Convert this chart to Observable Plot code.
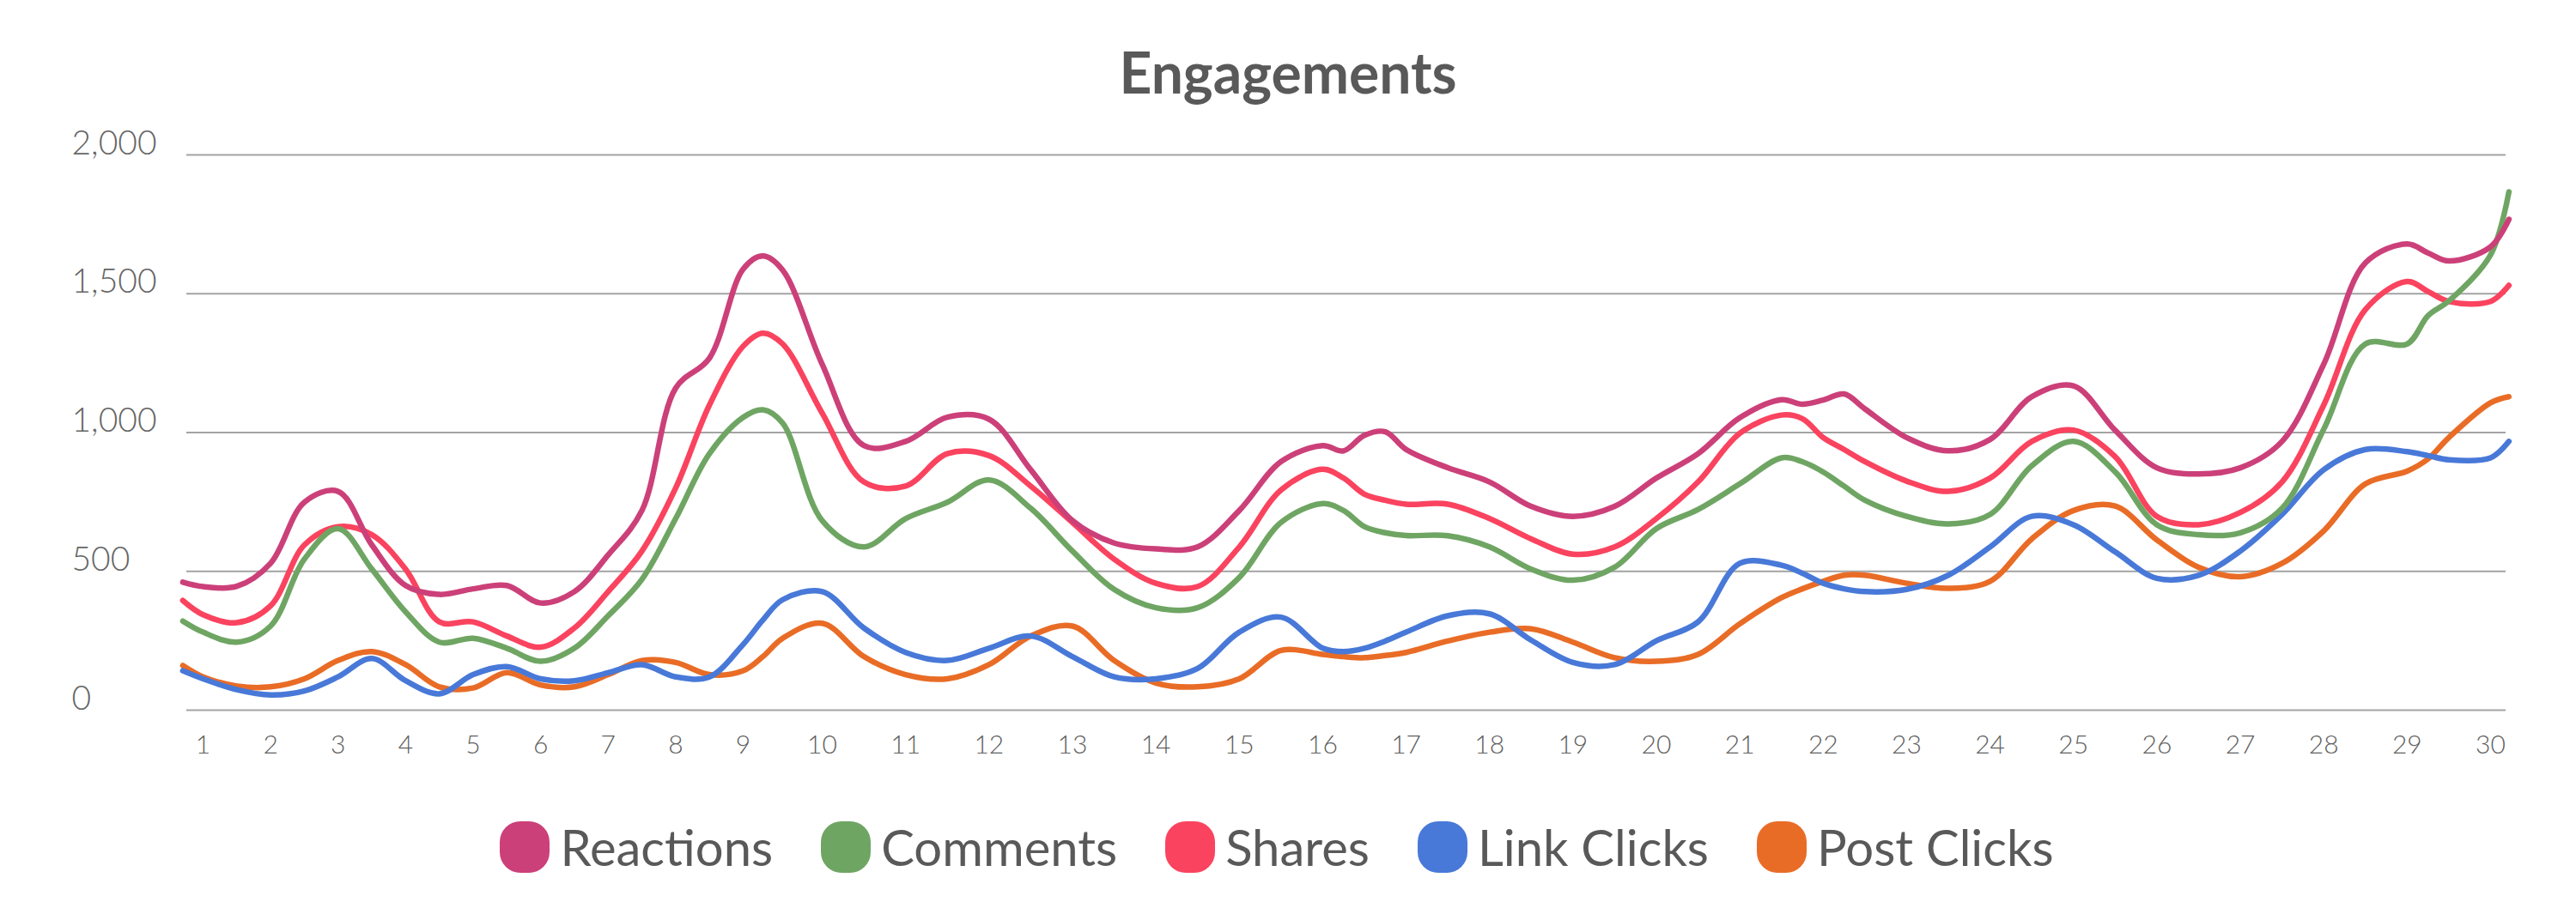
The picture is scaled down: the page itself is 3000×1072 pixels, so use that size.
<!DOCTYPE html>
<html>
<head>
<meta charset="utf-8">
<script src="https://cdn.jsdelivr.net/npm/d3@7"></script>
<script src="https://cdn.jsdelivr.net/npm/@observablehq/plot@0.6"></script>
<style>
  html, body { margin: 0; padding: 0; background: #fff; }
  body { width: 3000px; font-family: Lato, "Open Sans", sans-serif; }
  #title { height: 130px; box-sizing: border-box; padding-top: 44px; text-align: center;
           font-size: 66px; font-weight: 700; color: #595959; line-height: 1.2; }
  #chart svg { display: block; }
  #legend { display: flex; justify-content: center; align-items: center; padding-top: 22px; gap: 56px; margin-left: -26px; }
  .item { display: flex; align-items: center; gap: 12px; font-size: 58px; color: #595959; line-height: 1.2; }
  .sw { width: 58px; height: 60px; border-radius: 24px; }
</style>
</head>
<body>
<div id="title">Engagements</div>
<div id="chart"></div>
<div id="legend"></div>
<script>
// sample positions along the day axis
const days = [0.7, 1, 1.5, 2, 2.5, 3, 3.5, 4, 4.5, 5, 5.5, 6, 6.5, 7, 7.5, 8, 8.5, 9, 9.25, 9.5, 10,
  10.5, 11, 11.5, 12, 12.5, 13, 13.5, 14, 14.5, 15, 15.5, 16, 16.25, 16.5, 16.75, 17, 17.5, 18, 18.5, 19, 19.5, 20,
  20.5, 21, 21.5, 21.75, 22, 22.25, 22.5, 23, 23.5, 24, 24.5, 25, 25.5, 26, 26.5, 27, 27.5, 28, 28.5, 29, 29.25, 29.5, 30, 30.22];

const reactions = [461, 445, 446, 529, 749, 788, 595, 449, 417, 437, 449, 386, 427, 559, 719, 1160, 1268, 1589, 1636, 1585, 1246,
  953, 968, 1055, 1048, 866, 683, 602, 581, 588, 719, 895, 953, 934, 990, 1003, 939, 873, 822, 734, 698, 734, 836,
  924, 1053, 1118, 1102, 1117, 1139, 1085, 982, 934, 975, 1129, 1168, 1008, 873, 851, 873, 968, 1246, 1611, 1679, 1647, 1618, 1669, 1768];

const comments = [321, 281, 245, 303, 544, 654, 508, 354, 245, 259, 223, 176, 223, 340, 471, 690, 924, 1055, 1082, 1034, 683,
  588, 690, 749, 829, 727, 573, 435, 369, 369, 478, 676, 744, 719, 661, 639, 629, 628, 588, 508, 468, 515, 654,
  723, 815, 909, 895, 858, 807, 756, 698, 671, 705, 880, 968, 858, 668, 632, 639, 727, 1012, 1319, 1319, 1421, 1474, 1640, 1867];

const shares = [395, 344, 315, 376, 595, 661, 632, 508, 318, 318, 267, 227, 296, 427, 573, 800, 1099, 1311, 1358, 1319, 1070,
  822, 807, 924, 917, 807, 676, 544, 457, 445, 588, 793, 868, 836, 778, 756, 742, 742, 690, 617, 562, 588, 690,
  822, 997, 1063, 1050, 982, 939, 895, 825, 788, 836, 968, 1009, 913, 698, 668, 712, 822, 1099, 1443, 1544, 1508, 1472, 1472, 1530];

const linkClicks = [142, 113, 74, 55, 69, 120, 186, 106, 59, 128, 157, 113, 106, 135, 164, 120, 120, 237, 325, 398, 427,
  296, 208, 179, 223, 267, 193, 120, 113, 150, 281, 335, 223, 211, 223, 249, 281, 340, 347, 252, 172, 164, 250,
  318, 529, 522, 493, 457, 437, 427, 435, 486, 588, 698, 668, 570, 475, 486, 573, 705, 866, 939, 931, 917, 902, 909, 968];

const postClicks = [161, 120, 87, 84, 113, 179, 211, 164, 84, 80, 135, 91, 84, 128, 179, 172, 128, 142, 193, 259, 313,
  193, 128, 113, 164, 267, 303, 179, 98, 84, 113, 215, 201, 193, 189, 197, 208, 249, 281, 293, 245, 189, 176,
  201, 311, 405, 437, 464, 486, 486, 457, 439, 464, 617, 719, 735, 613, 515, 481, 529, 646, 815, 861, 905, 982, 1107, 1129];

const seriesNames = ["Reactions", "Comments", "Shares", "Link Clicks", "Post Clicks"];
const seriesColors = ["#cc4079", "#6fa563", "#fa435f", "#4879d8", "#e96c26"];
const dayLabels = [1, 2, 3, 4, 5, 6, 7, 8, 9, 10, 11, 12, 13, 14, 15, 16, 17, 18, 19, 20, 21, 22, 23, 24, 25, 26, 27, 28, 29, 30];
const yTicks = [0, 500, 1000, 1500, 2000];

const seriesValues = [reactions, comments, shares, linkClicks, postClicks];
const rows = seriesNames.flatMap((name, s) => days.map((d, i) => ({day: d, value: seriesValues[s][i], series: name})));
const drawOrder = ["Post Clicks", "Link Clicks", "Shares", "Comments", "Reactions"];

const chart = Plot.plot({
  width: 3000,
  height: 800,
  marginTop: 50,
  marginBottom: 103,
  marginLeft: 217,
  marginRight: 82,
  style: {fontFamily: "Lato, 'Open Sans', sans-serif", background: "#fff"},
  x: {type: "linear", domain: [1, 9, 10, 30], range: [236, 865, 957, 2900]},
  y: {type: "linear", domain: [0, 2000]},
  color: {domain: seriesNames, range: seriesColors},
  marks: [
    Plot.ruleY(yTicks, {stroke: "#a3a3a3", strokeWidth: 2}),
    Plot.axisY(yTicks, {label: null, tickSize: 0, tickPadding: 134, textAnchor: "start", lineAnchor: "bottom",
      dy: -1, fontSize: 39, fontWeight: 300, fill: "#666", tickFormat: d => d.toLocaleString("en-US")}),
    Plot.axisX(dayLabels, {label: null, tickSize: 0, tickPadding: 29, lineAnchor: "top",
      fontSize: 30, fontWeight: 300, fill: "#5f5f5f", tickFormat: d => String(d)}),
    ...drawOrder.map(name => Plot.line(rows.filter(r => r.series === name), {
      x: "day", y: "value", stroke: "series", strokeWidth: 6.5, curve: "catmull-rom",
      strokeLinecap: "round", strokeLinejoin: "round"
    }))
  ]
});
document.getElementById("chart").appendChild(chart);

const legend = document.getElementById("legend");
seriesNames.forEach((name, i) => {
  const item = document.createElement("div");
  item.className = "item";
  const sw = document.createElement("div");
  sw.className = "sw";
  sw.style.background = seriesColors[i];
  const label = document.createElement("span");
  label.textContent = name;
  item.appendChild(sw);
  item.appendChild(label);
  legend.appendChild(item);
});
</script>
</body>
</html>
